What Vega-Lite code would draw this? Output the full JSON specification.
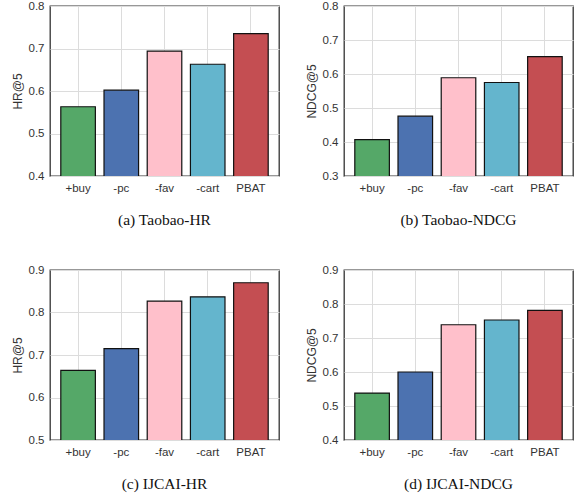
{
  "$schema": "https://vega.github.io/schema/vega-lite/v6.json",
  "autosize": {"type": "pad"},
  "padding": {"left": 10, "top": -1, "right": 5, "bottom": 5},
  "background": "white",
  "datasets": {
    "taobao_hr": [
      {"variant": "+buy", "value": 0.563},
      {"variant": "-pc", "value": 0.602},
      {"variant": "-fav", "value": 0.694},
      {"variant": "-cart", "value": 0.663},
      {"variant": "PBAT", "value": 0.735}
    ],
    "taobao_ndcg": [
      {"variant": "+buy", "value": 0.407},
      {"variant": "-pc", "value": 0.476},
      {"variant": "-fav", "value": 0.589},
      {"variant": "-cart", "value": 0.575},
      {"variant": "PBAT", "value": 0.651}
    ],
    "ijcai_hr": [
      {"variant": "+buy", "value": 0.664},
      {"variant": "-pc", "value": 0.715},
      {"variant": "-fav", "value": 0.827},
      {"variant": "-cart", "value": 0.837},
      {"variant": "PBAT", "value": 0.870}
    ],
    "ijcai_ndcg": [
      {"variant": "+buy", "value": 0.538},
      {"variant": "-pc", "value": 0.600},
      {"variant": "-fav", "value": 0.739},
      {"variant": "-cart", "value": 0.753},
      {"variant": "PBAT", "value": 0.781}
    ]
  },
  "config": {
    "view": {"stroke": "#333333", "strokeWidth": 1.3},
    "axis": {
      "labelFont": "Liberation Sans",
      "labelFontSize": 11.5,
      "labelColor": "#333333",
      "titleFont": "Liberation Sans",
      "titleFontSize": 12,
      "titleFontWeight": "normal",
      "titleColor": "#333333",
      "gridColor": "#dcdcdc",
      "gridWidth": 1,
      "ticks": false,
      "domain": false,
      "labelPadding": 6
    },
    "title": {
      "font": "Liberation Serif",
      "fontSize": 15.5,
      "fontWeight": "normal",
      "color": "#111111",
      "orient": "bottom",
      "offset": 19,
      "anchor": "middle"
    },
    "concat": {"spacing": 24}
  },
  "vconcat": [
    {
      "hconcat": [
        {
          "width": 229, "height": 170,
          "title": "(a)  Taobao-HR",
          "data": {"name": "taobao_hr"},
          "mark": {"type": "bar", "stroke": "#111111", "strokeWidth": 1.2, "clip": true},
          "encoding": {
            "x": {"field": "variant", "type": "nominal", "sort": ["+buy", "-pc", "-fav", "-cart", "PBAT"],
                  "scale": {"paddingInner": 0.2, "paddingOuter": 0.25},
                  "axis": {"title": null, "labelAngle": 0, "grid": true, "bandPosition": 0.5}},
            "y": {"field": "value", "type": "quantitative",
                  "scale": {"domain": [0.4, 0.8], "nice": false, "zero": false},
                  "axis": {"title": "HR@5", "values": [0.4, 0.5, 0.6, 0.7, 0.8], "format": ".1f"}},
            "color": {"field": "variant", "type": "nominal",
                      "scale": {"domain": ["+buy", "-pc", "-fav", "-cart", "PBAT"], "range": ["#55A868", "#4C72B0", "#FFC0CB", "#64B5CD", "#C44E52"]},
                      "legend": null}
          }
        },
        {
          "width": 229, "height": 170,
          "title": "(b)  Taobao-NDCG",
          "data": {"name": "taobao_ndcg"},
          "mark": {"type": "bar", "stroke": "#111111", "strokeWidth": 1.2, "clip": true},
          "encoding": {
            "x": {"field": "variant", "type": "nominal", "sort": ["+buy", "-pc", "-fav", "-cart", "PBAT"],
                  "scale": {"paddingInner": 0.2, "paddingOuter": 0.25},
                  "axis": {"title": null, "labelAngle": 0, "grid": true, "bandPosition": 0.5}},
            "y": {"field": "value", "type": "quantitative",
                  "scale": {"domain": [0.3, 0.8], "nice": false, "zero": false},
                  "axis": {"title": "NDCG@5", "values": [0.3, 0.4, 0.5, 0.6, 0.7, 0.8], "format": ".1f"}},
            "color": {"field": "variant", "type": "nominal",
                      "scale": {"domain": ["+buy", "-pc", "-fav", "-cart", "PBAT"], "range": ["#55A868", "#4C72B0", "#FFC0CB", "#64B5CD", "#C44E52"]},
                      "legend": null}
          }
        }
      ]
    },
    {
      "hconcat": [
        {
          "width": 229, "height": 170,
          "title": "(c)  IJCAI-HR",
          "data": {"name": "ijcai_hr"},
          "mark": {"type": "bar", "stroke": "#111111", "strokeWidth": 1.2, "clip": true},
          "encoding": {
            "x": {"field": "variant", "type": "nominal", "sort": ["+buy", "-pc", "-fav", "-cart", "PBAT"],
                  "scale": {"paddingInner": 0.2, "paddingOuter": 0.25},
                  "axis": {"title": null, "labelAngle": 0, "grid": true, "bandPosition": 0.5}},
            "y": {"field": "value", "type": "quantitative",
                  "scale": {"domain": [0.5, 0.9], "nice": false, "zero": false},
                  "axis": {"title": "HR@5", "values": [0.5, 0.6, 0.7, 0.8, 0.9], "format": ".1f"}},
            "color": {"field": "variant", "type": "nominal",
                      "scale": {"domain": ["+buy", "-pc", "-fav", "-cart", "PBAT"], "range": ["#55A868", "#4C72B0", "#FFC0CB", "#64B5CD", "#C44E52"]},
                      "legend": null}
          }
        },
        {
          "width": 229, "height": 170,
          "title": "(d)  IJCAI-NDCG",
          "data": {"name": "ijcai_ndcg"},
          "mark": {"type": "bar", "stroke": "#111111", "strokeWidth": 1.2, "clip": true},
          "encoding": {
            "x": {"field": "variant", "type": "nominal", "sort": ["+buy", "-pc", "-fav", "-cart", "PBAT"],
                  "scale": {"paddingInner": 0.2, "paddingOuter": 0.25},
                  "axis": {"title": null, "labelAngle": 0, "grid": true, "bandPosition": 0.5}},
            "y": {"field": "value", "type": "quantitative",
                  "scale": {"domain": [0.4, 0.9], "nice": false, "zero": false},
                  "axis": {"title": "NDCG@5", "values": [0.4, 0.5, 0.6, 0.7, 0.8, 0.9], "format": ".1f"}},
            "color": {"field": "variant", "type": "nominal",
                      "scale": {"domain": ["+buy", "-pc", "-fav", "-cart", "PBAT"], "range": ["#55A868", "#4C72B0", "#FFC0CB", "#64B5CD", "#C44E52"]},
                      "legend": null}
          }
        }
      ],
      "spacing": 24
    }
  ],
  "spacing": 34
}
